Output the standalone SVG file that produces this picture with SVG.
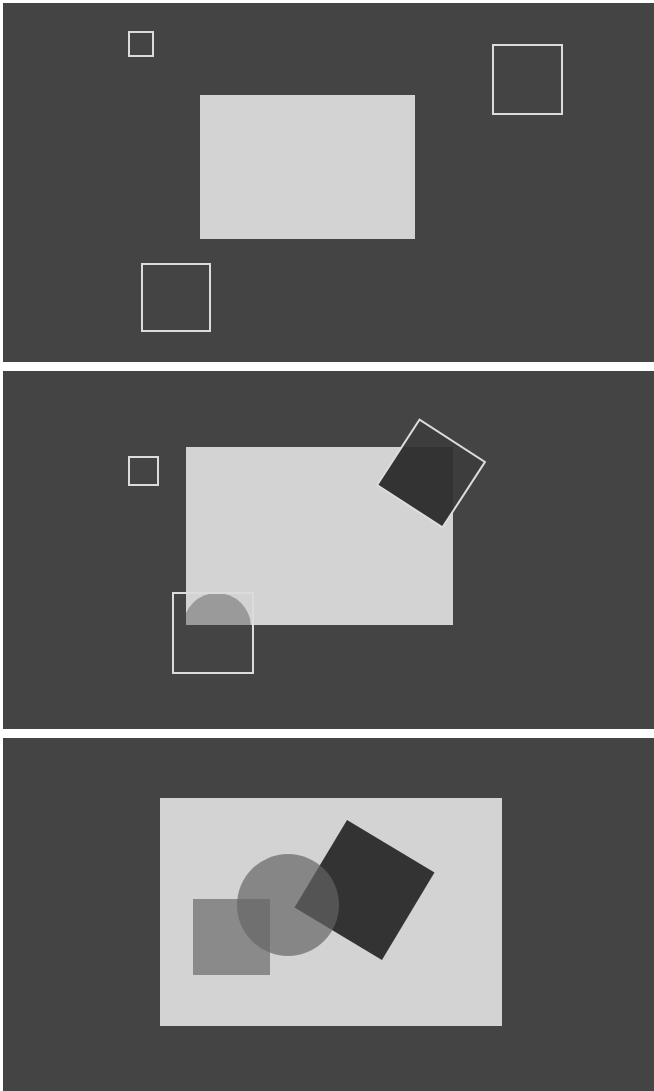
<svg xmlns="http://www.w3.org/2000/svg" width="654" height="1091" viewBox="0 0 654 1091">
<style>
.panel{fill:#444444}
.light{fill:#d3d3d3}
.outline{fill:none;stroke:#dcdcdc;stroke-width:2}
</style>
<defs>
<clipPath id="clip2"><rect x="186" y="447" width="267" height="178"/></clipPath>
</defs>
<rect x="0" y="0" width="654" height="1091" fill="#ffffff"/>
<g id="panel1">
<rect class="panel" x="3" y="3" width="651" height="359"/>
<rect class="light" x="200" y="95" width="215" height="144"/>
<rect class="outline" x="129" y="32" width="24" height="24"/>
<rect class="outline" x="493" y="45" width="69" height="69"/>
<rect class="outline" x="142" y="264" width="68" height="67"/>
</g>
<g id="panel2">
<rect class="panel" x="3" y="371" width="651" height="358"/>
<rect class="light" x="186" y="447" width="267" height="178"/>
<circle cx="217" cy="627" r="34" fill="#9a9a9a" clip-path="url(#clip2)"/>
<rect class="outline" x="129" y="457" width="29" height="28"/>
<rect class="outline" x="173" y="593" width="80" height="80"/>
<g transform="translate(431,473.5) rotate(33)">
<rect x="-39" y="-39" width="78" height="78" fill="#3d3d3d"/>
</g>
<g clip-path="url(#clip2)">
<g transform="translate(431,473.5) rotate(33)">
<rect x="-39" y="-39" width="78" height="78" fill="#333333"/>
</g>
</g>
<g transform="translate(431,473.5) rotate(33)">
<rect x="-39" y="-39" width="78" height="78" class="outline"/>
</g>
</g>
<g id="panel3">
<rect class="panel" x="3" y="738" width="651" height="353"/>
<rect class="light" x="160" y="798" width="342" height="228"/>
<rect x="193" y="899" width="77" height="76" fill="#8a8a8a"/>
<g transform="translate(364.5,890) rotate(31)">
<rect x="-51" y="-51" width="102" height="102" fill="#333333"/>
</g>
<circle cx="288" cy="905" r="51" fill="#646464" fill-opacity="0.69"/>
</g>
</svg>
